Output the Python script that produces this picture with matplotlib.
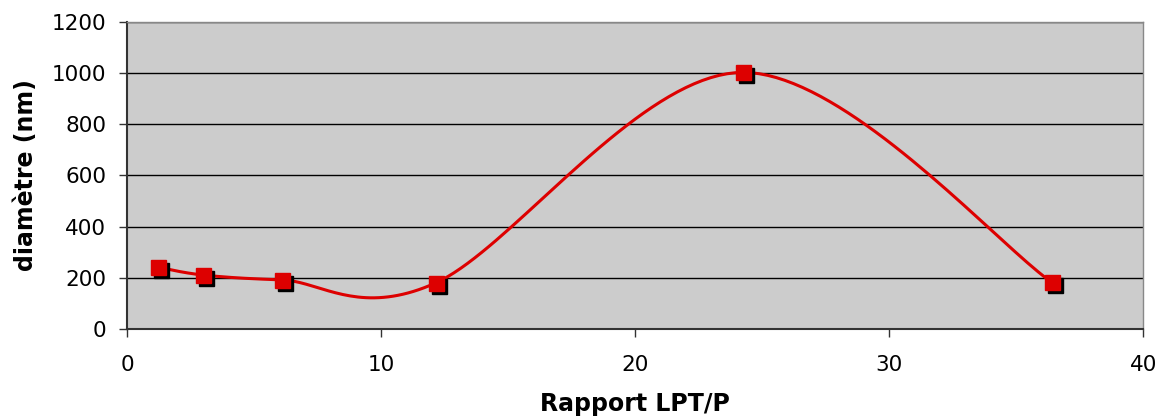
import numpy as np
import matplotlib
matplotlib.use("Agg")
import matplotlib.pyplot as plt
from matplotlib.transforms import ScaledTranslation

# Data
x_ratio = [1.2, 3.0, 6.1, 12.15, 24.25, 36.4]
diameter = [242, 211, 192, 180, 1003, 183]
x_ticks = [0, 10, 20, 30, 40]
y_ticks = [0, 200, 400, 600, 800, 1000, 1200]

def smooth(xs, ys, n=40):
    # Excel-style smoothed line: Catmull-Rom Bezier segments
    P = np.column_stack([xs, ys]).astype(float)
    out = []
    for i in range(len(P) - 1):
        p0 = P[i - 1] if i > 0 else P[i]
        p1 = P[i]
        p2 = P[i + 1]
        p3 = P[i + 2] if i + 2 < len(P) else P[i + 1]
        c1 = p1 + (p2 - p0) / 6.0
        c2 = p2 - (p3 - p1) / 6.0
        t = np.linspace(0, 1, n)[:, None]
        seg = ((1 - t) ** 3) * p1 + 3 * ((1 - t) ** 2) * t * c1 + 3 * (1 - t) * t ** 2 * c2 + t ** 3 * p2
        out.append(seg if i == 0 else seg[1:])
    s = np.vstack(out)
    return s[:, 0], s[:, 1]

plt.rcParams['font.family'] = ['DejaVu Sans']
fig = plt.figure(figsize=(11.6, 4.19), dpi=100)
ax = fig.add_axes([0.1095, 0.2148, 0.876, 0.7327])
ax.set_facecolor('#cccccc')

for y in y_ticks[1:]:
    ax.axhline(y, color='black', lw=1.0, zorder=1)

sx, sy = smooth(x_ratio, diameter)
ax.plot(sx, sy, color='#dd0000', lw=2.2, zorder=3, solid_capstyle='round')

shadow = ax.transData + ScaledTranslation(3 / 100, -3 / 100, fig.dpi_scale_trans)
ax.plot(x_ratio, diameter, 's', color='black', ms=10.8, mec='black', zorder=4, transform=shadow)
ax.plot(x_ratio, diameter, 's', color='#dd0000', ms=10.8, mec='#dd0000', zorder=5)

ax.set_xlim(0, 40)
ax.set_ylim(0, 1200)
ax.set_xticks(x_ticks)
ax.set_yticks(y_ticks)
ax.tick_params(axis='both', labelsize=15.5, direction='out', length=6, width=1, color='#333333')
ax.tick_params(axis='x', pad=13)
ax.tick_params(axis='y', pad=9)

for side in ['left', 'bottom']:
    ax.spines[side].set_color('#333333')
    ax.spines[side].set_linewidth(1.5)
for side in ['top', 'right']:
    ax.spines[side].set_color('#888888')
    ax.spines[side].set_linewidth(1.0)

ax.set_xlabel('Rapport LPT/P', fontsize=17, fontweight='bold', labelpad=12)
ax.set_ylabel('diamètre (nm)', fontsize=17, fontweight='bold', labelpad=10)

fig.savefig('out.png', dpi=100)
